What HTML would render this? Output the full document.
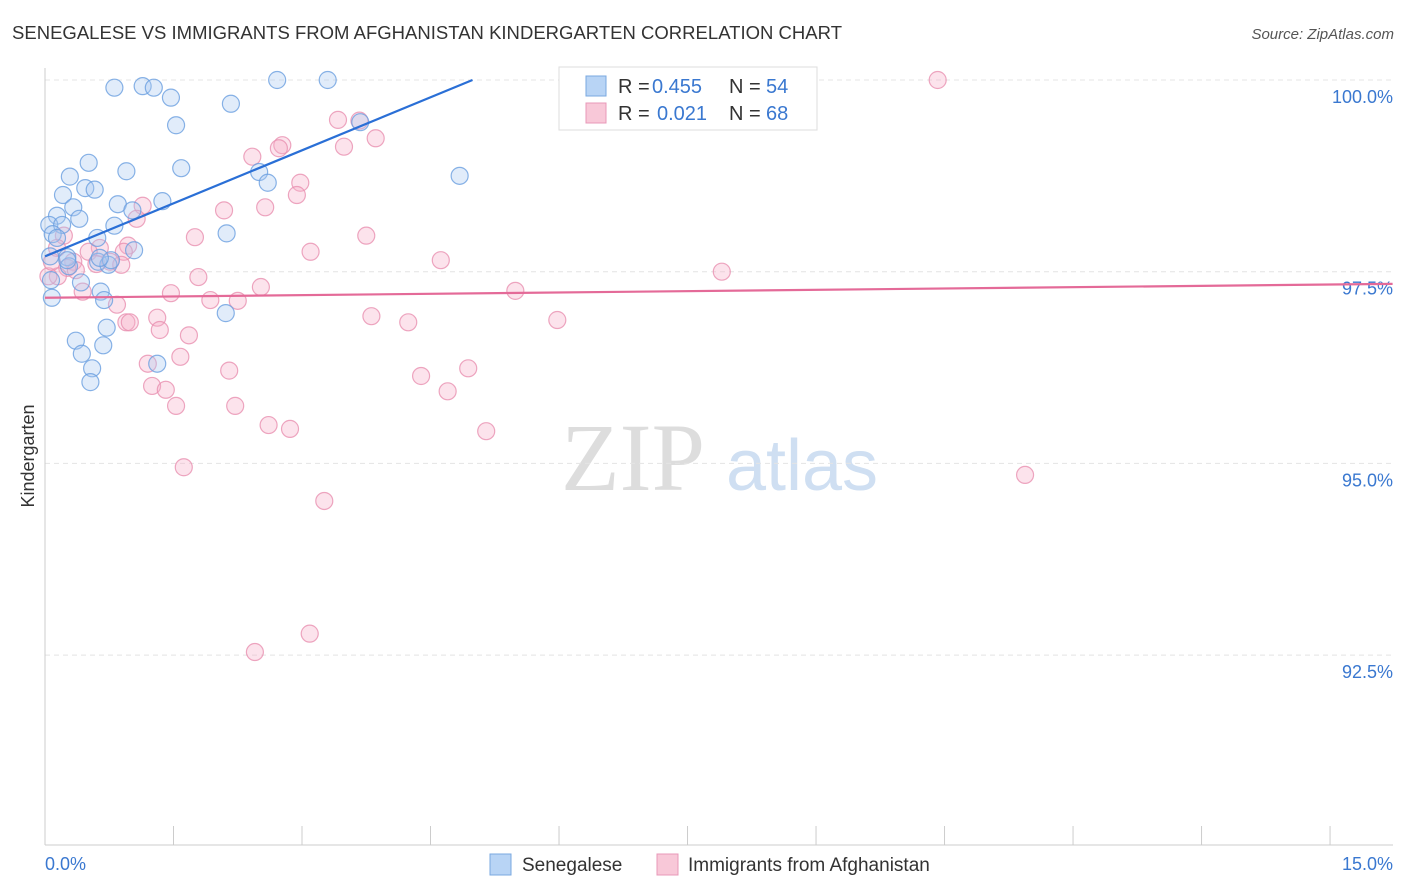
<!DOCTYPE html>
<html><head><meta charset="utf-8">
<style>
body{margin:0;background:#fff;font-family:"Liberation Sans",sans-serif;}
#wrap{position:relative;width:1406px;height:892px;overflow:hidden;}
</style></head>
<body>
<div id="wrap">
<svg id="svg" width="1406" height="892" xmlns="http://www.w3.org/2000/svg">
<text x="12" y="39" font-size="18.5" fill="#333" textLength="830">SENEGALESE VS IMMIGRANTS FROM AFGHANISTAN KINDERGARTEN CORRELATION CHART</text>
<text x="1394" y="39" font-size="15" fill="#555" font-style="italic" text-anchor="end">Source: ZipAtlas.com</text>
<text x="34" y="456" font-size="18" fill="#333" text-anchor="middle" transform="rotate(-90 34 456)">Kindergarten</text>
<g>
<text x="633" y="490" font-size="96" fill="#ddd" font-family="Liberation Serif" text-anchor="middle">ZIP</text>
<text x="802" y="490" font-size="72" fill="#cfdff2" text-anchor="middle">atlas</text>
</g>
<g id="grid"></g><g id="axes"></g><g id="pts"></g><g id="trend"></g>
<g>
<rect x="559" y="67" width="258" height="63" fill="#fff" stroke="#ddd"/>
<rect x="586" y="76" width="20" height="20" fill="#b8d4f5" stroke="#7aa8e0"/>
<text x="618" y="93" font-size="20" fill="#333">R =</text>
<text x="652" y="93" font-size="20" fill="#3a78d0">0.455</text>
<text x="729" y="93" font-size="20" fill="#333">N =</text>
<text x="766" y="93" font-size="20" fill="#3a78d0">54</text>
<rect x="586" y="103" width="20" height="20" fill="#f8c8d8" stroke="#e898b8"/>
<text x="618" y="120" font-size="20" fill="#333">R =</text>
<text x="657" y="120" font-size="20" fill="#3a78d0">0.021</text>
<text x="729" y="120" font-size="20" fill="#333">N =</text>
<text x="766" y="120" font-size="20" fill="#3a78d0">68</text>
</g>
<g>
<rect x="490" y="854" width="21" height="21" fill="#b8d4f5" stroke="#7aa8e0"/>
<text x="522" y="871" font-size="19" fill="#333">Senegalese</text>
<rect x="657" y="854" width="21" height="21" fill="#f8c8d8" stroke="#e898b8"/>
<text x="688" y="871" font-size="19" fill="#333">Immigrants from Afghanistan</text>
</g>
</svg>
</div>
<script>
const blueX=[0.81,1.14,1.27,1.47,2.71,3.30,2.17,1.53,3.68,0.51,0.95,1.59,4.84,0.29,0.21,0.47,0.58,0.85,1.37,2.50,2.60,0.14,0.33,0.40,0.05,0.20,1.02,0.81,0.09,0.14,0.61,2.12,1.04,0.06,0.26,0.62,0.74,0.77,0.28,0.42,0.07,0.08,0.65,0.69,2.11,0.72,0.36,0.68,0.43,0.55,0.53,1.31,0.26,0.64];
const blueY=[99.90,99.92,99.90,99.77,100.0,100.0,99.69,99.41,99.45,98.92,98.81,98.85,98.75,98.74,98.50,98.59,98.57,98.38,98.42,98.80,98.66,98.23,98.34,98.19,98.11,98.11,98.30,98.10,97.99,97.94,97.94,98.00,97.78,97.70,97.69,97.63,97.59,97.65,97.57,97.36,97.39,97.16,97.24,97.13,96.96,96.77,96.60,96.54,96.43,96.24,96.06,96.30,97.65,97.68];
const pinkX=[6.86,10.42,3.42,3.67,3.86,3.49,2.77,2.73,2.42,2.98,2.94,1.14,1.07,2.09,2.57,3.75,1.75,3.10,4.62,7.90,0.22,0.14,0.64,0.97,0.51,0.92,0.33,0.26,0.60,0.76,0.89,0.15,0.04,1.79,2.52,5.49,0.44,1.47,1.93,2.25,0.84,3.81,4.24,5.98,0.95,0.99,1.31,1.34,1.68,1.20,1.58,2.15,1.25,1.41,4.39,4.94,4.70,1.53,2.22,2.61,2.86,5.15,1.62,11.44,3.26,3.09,2.45,0.08,0.36];
const pinkY=[100.0,100.0,99.48,99.47,99.24,99.13,99.15,99.11,99.00,98.66,98.50,98.36,98.19,98.30,98.34,97.97,97.95,97.76,97.65,97.50,97.97,97.81,97.81,97.84,97.76,97.76,97.63,97.55,97.60,97.63,97.59,97.44,97.44,97.43,97.30,97.25,97.24,97.22,97.13,97.12,97.07,96.92,96.84,96.87,96.84,96.84,96.90,96.74,96.67,96.30,96.39,96.21,96.01,95.96,96.14,96.24,95.94,95.75,95.75,95.50,95.45,95.42,94.95,94.85,94.51,92.78,92.54,97.63,97.52];
const yTicks=[100,97.5,95,92.5];
const yTickLabels=["100.0%","97.5%","95.0%","92.5%"];
const blueTrend=[97.70,0.461,4.99];
const pinkTrend=[97.16,0.0115,15.73];
const xs=v=>45+v*85.67, ys=v=>80+(100-v)*76.68;
const NS="http://www.w3.org/2000/svg";
function mk(tag,attrs,parent){const e=document.createElementNS(NS,tag);for(const k in attrs)e.setAttribute(k,attrs[k]);document.getElementById(parent).appendChild(e);return e;}
yTicks.forEach((t,i)=>{
 const g=mk('line',{x1:45,x2:1393,y1:ys(t),y2:ys(t),stroke:'#e4e4e4','stroke-dasharray':'5,4'},'grid');
 
 
 const l=mk('text',{x:1393,y:ys(t)+23,'font-size':18,fill:'#3a78d0','text-anchor':'end'},'grid');
 l.textContent=yTickLabels[i];
 
 
});
const ax=mk('line',{x1:45,x2:45,y1:68,y2:845,stroke:'#ccc'},'axes');


const bx=mk('line',{x1:45,x2:1393,y1:845,y2:845,stroke:'#ccc'},'axes');


for(let i=1;i<=10;i++){const t=mk('line',{x1:xs(i*1.5),x2:xs(i*1.5),y1:826,y2:845,stroke:'#ccc'},'axes');
 
 }
const x0=mk('text',{x:45,y:870,'font-size':18,fill:'#3a78d0'},'axes');x0.textContent='0.0%';


const x1=mk('text',{x:1393,y:870,'font-size':18,fill:'#3a78d0','text-anchor':'end'},'axes');x1.textContent='15.0%';


function pts(X,Y,fill,stroke,name){X.forEach((x,i)=>{const c=mk('circle',{cx:xs(x),cy:ys(Y[i]),r:8.5,fill:fill,'fill-opacity':0.35,stroke:stroke,'stroke-width':1.2,'stroke-opacity':0.8},'pts');
 
 });}
pts(pinkX,pinkY,'#f5b0c8','#e890b0','afghanistan-point');
pts(blueX,blueY,'#a8c8f0','#6a9fe0','senegalese-point');
function tr(T,col,name){const l=mk('line',{x1:xs(0),y1:ys(T[0]),x2:xs(T[2]),y2:ys(T[0]+T[1]*T[2]),stroke:col,'stroke-width':2.2},'trend');
 
 }
tr(blueTrend,'#2a6fd6','senegalese-trendline');
tr(pinkTrend,'#e46a98','afghanistan-trendline');
</script>
</body></html>
